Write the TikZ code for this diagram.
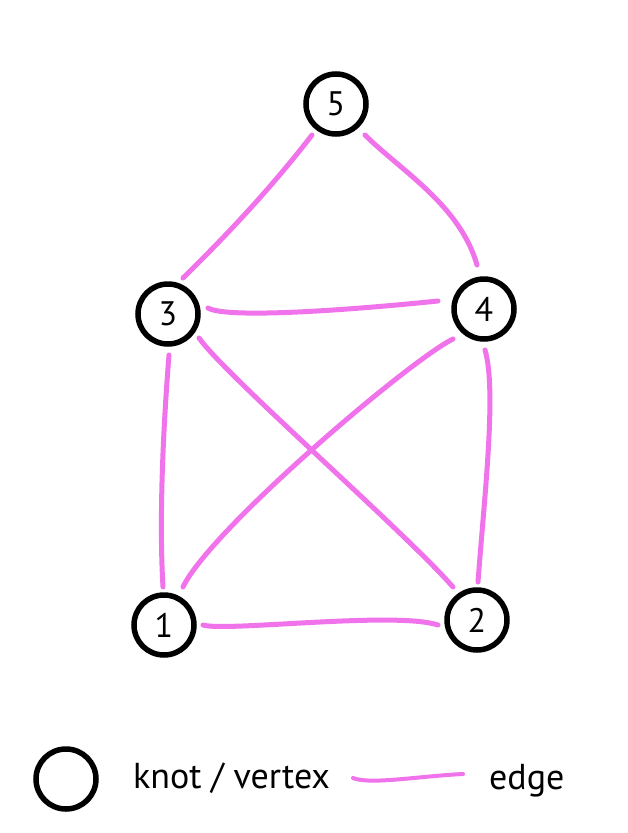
\documentclass[tikz,border=0pt]{standalone}
\usepackage{fontspec}
\setmainfont{PT Sans}
\usetikzlibrary{calc}
\definecolor{edgepink}{RGB}{240,115,235}
\tikzset{
  vertex/.style={circle, draw=black, line width=5.5pt, minimum size=60pt, inner sep=0pt,
    font=\fontsize{34}{40}\selectfont},
  edgeline/.style={draw=edgepink, line width=5pt, line cap=round},
  legendtext/.style={anchor=base west, inner sep=0pt, font=\fontsize{36}{42}\selectfont}
}
\begin{document}
\begin{tikzpicture}[x=1pt,y=-1pt]
\useasboundingbox (0,0) rectangle (628,833);
% vertices
\node[vertex] (n5) at (336,104) {5};
\node[vertex] (n3) at (168,314) {3};
\node[vertex] (n4) at (484,309) {4};
\node[vertex] (n1) at (164,625) {1};
\node[vertex] (n2) at (477,620) {2};
% edges
\draw[edgeline] ($(n5)+(-24,31)$) .. controls (275,183) and (232,230) .. ($(n3)+(15,-36)$);
\draw[edgeline] ($(n5)+(29,31)$) .. controls (400,170) and (460,205) .. ($(n4)+(-7,-44)$);
\draw[edgeline] ($(n3)+(40,-6)$) .. controls (225,318) and (330,312) .. ($(n4)+(-46,-8)$);
\draw[edgeline] ($(n3)+(1,41)$) .. controls (163,430) and (159,520) .. ($(n1)+(-1,-38)$);
\draw[edgeline] ($(n3)+(31,24)$) .. controls (225,375) and (405,532) .. ($(n2)+(-24,-33)$);
\draw[edgeline] ($(n4)+(-31,30)$) .. controls (410,360) and (210,530) .. ($(n1)+(19,-38)$);
\draw[edgeline] ($(n4)+(1,41)$) .. controls (497,390) and (484,500) .. ($(n2)+(1,-38)$);
\draw[edgeline] ($(n1)+(39,0)$) .. controls (225,632) and (395,611) .. ($(n2)+(-39,5)$);
% legend
\node[vertex] (lv) at (66,779) {};
\node[legendtext] (lvt) at (133,788) {knot / vertex};
\coordinate (la) at (353,778);
\coordinate (lb) at (463,774);
\draw[edgeline, line width=4pt] (la) .. controls (370,785) and (420,776) .. (lb);
\node[legendtext] (let) at (489,789) {edge};
\end{tikzpicture}
\end{document}
